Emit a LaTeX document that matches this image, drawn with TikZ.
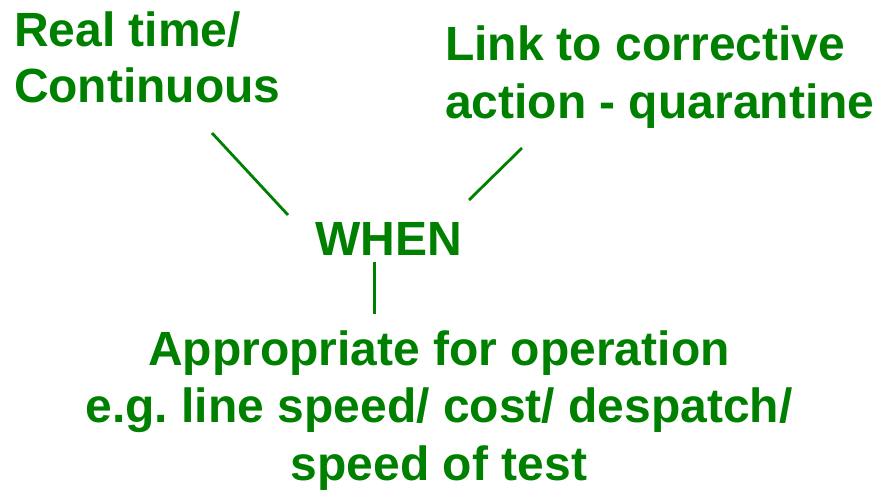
\documentclass[tikz,border=0pt]{standalone}
\usepackage{fontspec}
\setmainfont{Liberation Sans}
\frenchspacing
\definecolor{leafgreen}{HTML}{008000}
\begin{document}
\begin{tikzpicture}[x=1pt,y=-1pt,
  label/.style={inner sep=0pt, outer sep=0pt, text=leafgreen,
    font=\fontsize{48}{56}\selectfont\bfseries},
  link/.style={draw=leafgreen, line width=2.8pt}]
\useasboundingbox (0,0) rectangle (875,490);
% the three annotations and the hub word (anchored at the last baseline)
\node[label, anchor=base west, align=left] (rt) at (14,102) {Real time/\\Continuous};
\node[label, anchor=base west, align=left, font=\fontsize{48}{58}\selectfont\bfseries]
  (ca) at (445,118) {Link to corrective\\action - quarantine};
\node[label, anchor=base] (when) at (388.5,255) {WHEN};
\node[label, anchor=base, align=center, font=\fontsize{48}{57.5}\selectfont\bfseries]
  (op) at (439,480)
  {Appropriate for operation\\e.g. line speed/ cost/ despatch/\hspace*{13pt}\\speed of test};
% connector end points beside the texts
\coordinate (rtend) at (212,133);
\coordinate (whenl) at (288,215);
\coordinate (caend) at (522,148);
\coordinate (whenr) at (469,200);
\coordinate (whenb) at (374.5,262);
\coordinate (optop) at (374.5,314);
\draw[link] (rtend) -- (whenl);
\draw[link] (caend) -- (whenr);
\draw[link] (whenb) -- (optop);
\end{tikzpicture}
\end{document}
